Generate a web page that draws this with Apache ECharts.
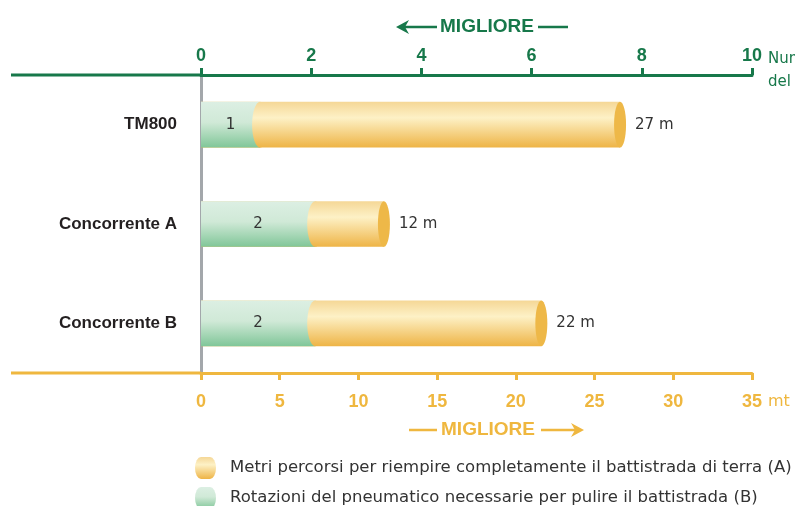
<!DOCTYPE html>
<html>
<head>
<meta charset="utf-8">
<script src="https://cdn.jsdelivr.net/npm/echarts@6/dist/echarts.min.js"></script>
<style>
html, body { margin: 0; padding: 0; background: #fff; }
#chart { width: 795px; height: 506px; }
</style>
</head>
<body>
<div id="chart"></div>
<script>
// data
const categories = ['TM800', 'Concorrente A', 'Concorrente B'];
const metres = [27, 12, 22];          // metri per riempire il battistrada (A)
const rotations = [1, 2, 2];          // rotazioni per pulire il battistrada (B)
const rotationAxis = [0, 10, 2];      // min, max, step (asse in alto)
const metreAxis = [0, 35, 5];         // min, max, step (asse in basso)

const metresName = 'Metri percorsi per riempire completamente il battistrada di terra (A)';
const rotationsName = 'Rotazioni del pneumatico necessarie per pulire il battistrada (B)';

const GREEN = '#17784a';
const ORANGE = '#efb73f';
const GRAY = '#a3a7ab';
const FONT = '"Liberation Sans", Arial, sans-serif';
const TEXT_FONT = '"DejaVu Sans", sans-serif';

function orangeBody() {
  return new echarts.graphic.LinearGradient(0, 0, 0, 1, [
    { offset: 0, color: '#f5d796' },
    { offset: 0.35, color: '#fdf1c6' },
    { offset: 1, color: '#eeb446' }
  ]);
}
function greenBody() {
  return new echarts.graphic.LinearGradient(0, 0, 0, 1, [
    { offset: 0, color: '#dcefe3' },
    { offset: 0.45, color: '#d0e9d7' },
    { offset: 1, color: '#80c698' }
  ]);
}

function renderMetres(params, api) {
  const cat = api.value(1);
  const p0 = api.coord([0, cat]);
  const p1 = api.coord([api.value(0), cat]);
  const h = api.size([0, 1])[1] * 0.46;
  const rx = 6;
  const capX = p1[0] - rx;
  return {
    type: 'group',
    children: [
      { type: 'rect', shape: { x: p0[0], y: p0[1] - h / 2, width: capX - p0[0], height: h },
        style: { fill: orangeBody() } },
      { type: 'ellipse', shape: { cx: capX, cy: p0[1], rx: rx, ry: h / 2 },
        style: { fill: '#eeb848' } },
      { type: 'text', x: p1[0] + 9, y: p0[1],
        style: { text: api.value(0) + ' m', fill: '#333', font: '15px ' + TEXT_FONT, verticalAlign: 'middle' } }
    ]
  };
}

function renderRotations(params, api) {
  const cat = api.value(1);
  const p0 = api.coord([0, cat]);
  const p1 = api.coord([api.value(0), cat]);
  const h = api.size([0, 1])[1] * 0.46;
  const rx = 8;
  const cx = p1[0] + 4;
  return {
    type: 'group',
    children: [
      { type: 'rect', shape: { x: p0[0], y: p0[1] - h / 2, width: cx - p0[0], height: h },
        style: { fill: greenBody() } },
      { type: 'ellipse', shape: { cx: cx, cy: p0[1], rx: rx, ry: h / 2 },
        style: { fill: orangeBody() } },
      { type: 'text', x: (p0[0] + cx) / 2, y: p0[1],
        style: { text: String(api.value(0)), fill: '#333', font: '15px ' + TEXT_FONT, align: 'center', verticalAlign: 'middle' } }
    ]
  };
}

const chart = echarts.init(document.getElementById('chart'));

const option = {
  animation: false,
  textStyle: { fontFamily: FONT },
  grid: { left: 201, right: 43, top: 75, bottom: 133, containLabel: false, outerBoundsMode: 'none' },
  legend: {
    orient: 'vertical',
    left: 195,
    top: 457,
    height: 70,
    padding: 0,
    itemWidth: 21,
    itemHeight: 22,
    itemGap: 8,
    icon: 'path://M6,0 H15 A6,11 0 0 1 15,22 H6 A6,11 0 0 1 6,0 Z',
    textStyle: { fontSize: 16.5, fontFamily: TEXT_FONT, color: '#333', padding: [0, 0, 0, 9] },
    data: [metresName, rotationsName]
  },
  xAxis: [
    {
      type: 'value',
      position: 'top',
      min: rotationAxis[0], max: rotationAxis[1], interval: rotationAxis[2],
      axisLine: { show: true, lineStyle: { color: GREEN, width: 3 } },
      axisTick: { show: true, length: 7, lineStyle: { color: GREEN, width: 3 } },
      axisLabel: { color: GREEN, fontWeight: 'bold', fontSize: 18, margin: 10 },
      splitLine: { show: false },
      name: '{n|Numero di rotazioni}\n{n|del pneumatico}\n{g| }',
      nameLocation: 'end',
      nameGap: 14,
      nameTextStyle: {
        align: 'left',
        rich: {
          n: { color: GREEN, fontSize: 15, fontFamily: TEXT_FONT, lineHeight: 23 },
          g: { fontSize: 8, lineHeight: 9 }
        }
      }
    },
    {
      type: 'value',
      position: 'bottom',
      min: metreAxis[0], max: metreAxis[1], interval: metreAxis[2],
      axisLine: { show: true, lineStyle: { color: ORANGE, width: 3 } },
      axisTick: { show: true, length: 7, lineStyle: { color: ORANGE, width: 3 } },
      axisLabel: { color: ORANGE, fontWeight: 'bold', fontSize: 18, margin: 20 },
      splitLine: { show: false },
      name: '{g| }\n{n|mt}',
      nameLocation: 'end',
      nameGap: 14,
      nameTextStyle: {
        align: 'left',
        rich: {
          n: { color: ORANGE, fontSize: 16, fontFamily: TEXT_FONT, lineHeight: 20 },
          g: { fontSize: 10, lineHeight: 58 }
        }
      }
    }
  ],
  yAxis: {
    type: 'category',
    data: categories,
    inverse: true,
    axisLine: { lineStyle: { color: GRAY, width: 3 } },
    axisTick: { length: 191, lineStyle: { color: GRAY, width: 3 } },
    axisLabel: { color: '#231f20', fontWeight: 'bold', fontSize: 17, margin: 24 }
  },
  graphic: [
    // left extensions of the two value axes
    { type: 'line', z: 100, shape: { x1: 11, y1: 75, x2: 201, y2: 75 }, style: { stroke: GREEN, lineWidth: 3 } },
    { type: 'line', z: 100, shape: { x1: 11, y1: 373, x2: 201, y2: 373 }, style: { stroke: ORANGE, lineWidth: 3 } },
    // "migliore" markers
    { type: 'polygon', shape: { points: [[396, 27], [409, 20], [405, 27], [409, 34]] }, style: { fill: GREEN } },
    { type: 'line', shape: { x1: 403, y1: 27, x2: 437, y2: 27 }, style: { stroke: GREEN, lineWidth: 2.5 } },
    { type: 'text', x: 487, y: 27, style: { text: 'MIGLIORE', fill: GREEN, font: 'bold 19px ' + FONT, align: 'center', verticalAlign: 'middle' } },
    { type: 'line', shape: { x1: 538, y1: 27, x2: 568, y2: 27 }, style: { stroke: GREEN, lineWidth: 2.5 } },
    { type: 'line', shape: { x1: 409, y1: 430, x2: 437, y2: 430 }, style: { stroke: ORANGE, lineWidth: 2.5 } },
    { type: 'text', x: 488, y: 430, style: { text: 'MIGLIORE', fill: ORANGE, font: 'bold 19px ' + FONT, align: 'center', verticalAlign: 'middle' } },
    { type: 'line', shape: { x1: 541, y1: 430, x2: 577, y2: 430 }, style: { stroke: ORANGE, lineWidth: 2.5 } },
    { type: 'polygon', shape: { points: [[584, 430], [571, 423], [575, 430], [571, 437]] }, style: { fill: ORANGE } }
  ],
  series: [
    {
      name: metresName,
      type: 'custom',
      xAxisIndex: 1,
      yAxisIndex: 0,
      renderItem: renderMetres,
      itemStyle: { color: orangeBody() },
      encode: { x: 0, y: 1 },
      data: metres.map((v, i) => [v, i]),
      z: 2
    },
    {
      name: rotationsName,
      type: 'custom',
      xAxisIndex: 0,
      yAxisIndex: 0,
      renderItem: renderRotations,
      itemStyle: { color: greenBody() },
      encode: { x: 0, y: 1 },
      data: rotations.map((v, i) => [v, i]),
      z: 3
    }
  ]
};

chart.setOption(option);
</script>
</body>
</html>
